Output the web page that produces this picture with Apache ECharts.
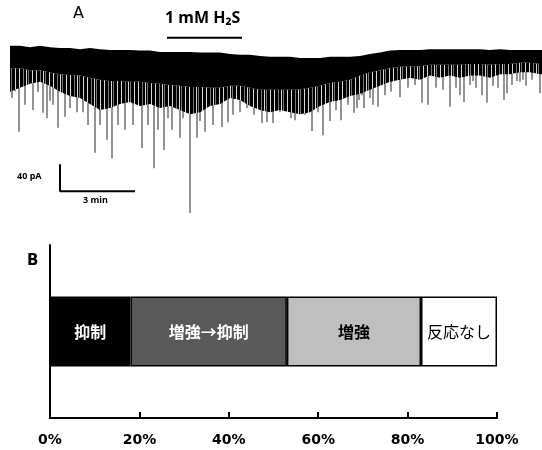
<!DOCTYPE html>
<html>
<head>
<meta charset="utf-8">
<script src="https://cdn.jsdelivr.net/npm/echarts@6/dist/echarts.min.js"></script>
<style>
  html, body { margin: 0; padding: 0; background: #fff; }
  #chart { width: 542px; height: 450px; }
</style>
</head>
<body>
<div id="chart"></div>
<script>
// --- panel A: trace (time in min, current in pA, 0 = baseline) ---
var traceTime = [0, 0.4, 0.8, 1.2, 1.6, 2, 2.4, 2.8, 3.2, 3.6,
  4, 4.4, 4.8, 5.2, 5.6, 6, 6.4, 6.8, 7.2, 7.6,
  8, 8.4, 8.8, 9.2, 9.6, 10, 10.4, 10.8, 11.2, 11.6,
  12, 12.4, 12.8, 13.2, 13.6, 14, 14.4, 14.8, 15.2, 15.6,
  16, 16.4, 16.8, 17.2, 17.6, 18, 18.4, 18.8, 19.2, 19.6,
  20, 20.4, 20.8, 21.2, 21.28]
// upper edge of the noise band
var bandTop = [6, 6, 4, 6, 4, 3, 3, 1, 3, 1,
  0, 0, 0, -1, -1, -3, -3, -3, -3, -4,
  -4, -4, -6, -7, -7, -9, -10, -10, -10, -12,
  -12, -12, -10, -10, -10, -9, -6, -4, -1, 0,
  0, 0, 1, 1, 1, 1, 1, 1, 0, 1,
  0, 0, 0, 0, 0]
// where the solid black part ends
var bandCore = [-27, -27, -30, -30, -33, -36, -37, -38, -41, -44,
  -46, -46, -47, -47, -49, -50, -52, -53, -55, -55,
  -56, -56, -53, -53, -56, -59, -59, -59, -59, -58,
  -56, -53, -49, -47, -44, -38, -33, -30, -27, -25,
  -24, -24, -22, -22, -22, -22, -21, -21, -22, -21,
  -21, -19, -19, -21, -21]
// lower edge of the dense fringe of small events
var bandFringe = [-62, -56, -50, -47, -53, -62, -68, -71, -80, -89,
  -86, -80, -77, -83, -80, -86, -83, -89, -95, -92,
  -83, -80, -71, -74, -83, -89, -92, -89, -92, -95,
  -92, -83, -77, -74, -68, -65, -59, -53, -47, -44,
  -41, -44, -38, -41, -38, -41, -38, -38, -41, -36,
  -36, -33, -33, -36, -36]

// larger downward events that stick out under the band
var spikeTime = [0.08, 0.2, 0.36, 0.6, 0.92, 1.12, 1.32, 1.48, 1.6, 1.72, 1.92, 2.2, 2.4,
  2.68, 2.92, 3.12, 3.4, 3.6, 3.88, 4.08, 4.32, 4.6, 4.92, 5.28, 5.52, 5.76, 5.92,
  6.16, 6.32, 6.48, 6.8, 6.92, 7.2, 7.48, 7.6, 7.8, 8.12, 8.48, 8.72, 8.92, 9.2, 9.48,
  9.76, 10.0, 10.08, 10.28, 10.52, 10.8, 11.0, 11.24, 11.4, 11.52, 11.8, 12.08, 12.32,
  12.52, 12.8, 13.04, 13.24, 13.52, 13.76, 13.88, 13.96, 14.08, 14.16, 14.4, 14.52, 14.72,
  15.0, 15.24, 15.6, 15.92, 16.2, 16.48, 16.72, 17.04, 17.32, 17.6, 17.84, 18.0, 18.16,
  18.4, 18.52, 18.64, 18.88, 19.08, 19.32, 19.52, 19.76, 19.88, 20.08, 20.28, 20.4, 20.52,
  20.64, 20.88, 21.2]
var spikePeak = [-71, -61, -121, -81, -89, -62, -93, -101, -75, -81, -115, -99, -86,
  -92, -92, -111, -152, -111, -133, -160, -111, -118, -111, -145, -111, -175, -118,
  -148, -101, -118, -130, -101, -241, -130, -105, -121, -111, -114, -107, -96, -92, -86,
  -96, -89, -108, -107, -108, -92, -89, -101, -104, -86, -96, -120, -92,
  -126, -105, -89, -104, -81, -93, -86, -74, -67, -86, -71, -81, -84,
  -67, -62, -70, -56, -52, -78, -81, -56, -59, -84, -56, -67, -77,
  -52, -46, -56, -67, -78, -53, -56, -74, -64, -52, -46, -47, -44,
  -53, -44, -64]

var drugTime = [6.28, 9.28]     // 1 mM H2S application bar
var drugLevel = 18
var scaleOrigin = [2, -209]     // scale bar corner
var scaleSize = [3, 40]         // 3 min, 40 pA

// --- panel B: response breakdown ---
var categories = ['抑制', '増強→抑制', '増強', '反応なし']
var percents = [18, 35, 30, 17]
var barColors = ['#000000', '#595959', '#bfbfbf', '#ffffff']
var labelColors = ['#ffffff', '#ffffff', '#000000', '#000000']
var labelWeights = ['bold', 'bold', 'bold', 'normal']

// uneven comb texture for the fringe of small events
var combCols = 'BBwBBBgBBwBgBBBwB'
var combShades = { B: '#000', g: '#777', w: '#d8d8d8' }
var comb = document.createElement('canvas')
comb.width = combCols.length
comb.height = 1
var cctx = comb.getContext('2d')
for (var c = 0; c < combCols.length; c++) {
  cctx.fillStyle = combShades[combCols[c]]
  cctx.fillRect(c, 0, 1, 1)
}

function edgePoly(api, upper, lower) {
  var pts = []
  for (var i = 0; i < traceTime.length; i++) pts.push(api.coord([traceTime[i], upper[i]]))
  for (var j = traceTime.length - 1; j >= 0; j--) pts.push(api.coord([traceTime[j], lower[j]]))
  return pts
}

var chart = echarts.init(document.getElementById('chart'))

var bandSeries = {
  type: 'custom',
  xAxisIndex: 0,
  yAxisIndex: 0,
  data: [[0, 0]],
  z: 3,
  silent: true,
  renderItem: function (params, api) {
    return {
      type: 'group',
      children: [
        { type: 'polygon', shape: { points: edgePoly(api, bandCore, bandFringe) },
          style: { fill: { image: comb, repeat: 'repeat' } } },
        { type: 'polygon', shape: { points: edgePoly(api, bandTop, bandCore) },
          style: { fill: '#000' } }
      ]
    }
  }
}

var spikeSeries = {
  type: 'custom',
  xAxisIndex: 0,
  yAxisIndex: 0,
  z: 2,
  silent: true,
  data: spikeTime.map(function (t, i) { return [t, spikePeak[i]] }),
  renderItem: function (params, api) {
    var a = api.coord([api.value(0), -20])
    var b = api.coord([api.value(0), api.value(1)])
    return {
      type: 'line',
      shape: { x1: a[0], y1: a[1], x2: b[0], y2: b[1] },
      style: { stroke: '#888', lineWidth: 1.8 }
    }
  }
}

var scaleSeries = {
  type: 'line',
  xAxisIndex: 0,
  yAxisIndex: 0,
  symbol: 'none',
  silent: true,
  lineStyle: { color: '#000', width: 2 },
  data: [
    [scaleOrigin[0], scaleOrigin[1] + scaleSize[1]],
    scaleOrigin,
    [scaleOrigin[0] + scaleSize[0], scaleOrigin[1]]
  ]
}

var drugSeries = {
  type: 'line',
  xAxisIndex: 0,
  yAxisIndex: 0,
  symbol: 'none',
  silent: true,
  lineStyle: { color: '#000', width: 2 },
  data: [[drugTime[0], drugLevel], [drugTime[1], drugLevel]]
}

var barSeries = categories.map(function (name, i) {
  return {
    name: name,
    type: 'bar',
    stack: 'total',
    xAxisIndex: 1,
    yAxisIndex: 1,
    barWidth: 70,
    data: [percents[i]],
    itemStyle: { color: barColors[i], borderColor: '#000', borderWidth: 1.5 },
    label: {
      show: true,
      formatter: '{a}',
      color: labelColors[i],
      fontSize: 16,
      fontWeight: labelWeights[i],
      fontFamily: 'Noto Sans CJK JP'
    }
  }
})

chart.setOption({
  animation: false,
  grid: [
    { left: 10, top: 33, width: 532, height: 186 },
    { left: 50, top: 245, width: 447, height: 173 }
  ],
  xAxis: [
    { gridIndex: 0, type: 'value', min: 0, max: 21.28, show: false },
    {
      gridIndex: 1,
      type: 'value',
      min: 0,
      max: 100,
      interval: 20,
      splitLine: { show: false },
      axisLine: { show: true, lineStyle: { color: '#000', width: 2 } },
      axisTick: { show: true, inside: true, length: 6, lineStyle: { color: '#000', width: 2 } },
      axisLabel: {
        formatter: '{value}%',
        color: '#000',
        fontSize: 14,
        fontWeight: 'bold',
        fontFamily: 'DejaVu Sans',
        margin: 15
      }
    }
  ],
  yAxis: [
    { gridIndex: 0, type: 'value', min: -250, max: 25, show: false },
    {
      gridIndex: 1,
      type: 'category',
      data: [''],
      axisLine: { show: true, lineStyle: { color: '#000', width: 2 } },
      axisTick: { show: false },
      axisLabel: { show: false }
    }
  ],
  graphic: [
    { type: 'text', left: 73, top: 6, style: { text: 'A', fontSize: 16, fontFamily: 'DejaVu Sans', fill: '#000' } },
    { type: 'text', left: 27, top: 254, style: { text: 'B', fontSize: 15, fontWeight: 'bold', fontFamily: 'DejaVu Sans', fill: '#000' } },
    { type: 'text', left: 165, top: 10, style: { text: '1 mM H₂S', fontSize: 16, fontWeight: 'bold', fontFamily: 'Noto Sans', fill: '#000' } },
    { type: 'text', left: 17, top: 172, style: { text: '40 pA', fontSize: 9, fontWeight: 'bold', fontFamily: 'Noto Sans', fill: '#000' } },
    { type: 'text', left: 83, top: 196, style: { text: '3 min', fontSize: 9, fontWeight: 'bold', fontFamily: 'Noto Sans', fill: '#000' } }
  ],
  series: [spikeSeries, bandSeries, scaleSeries, drugSeries].concat(barSeries)
})
</script>
</body>
</html>
